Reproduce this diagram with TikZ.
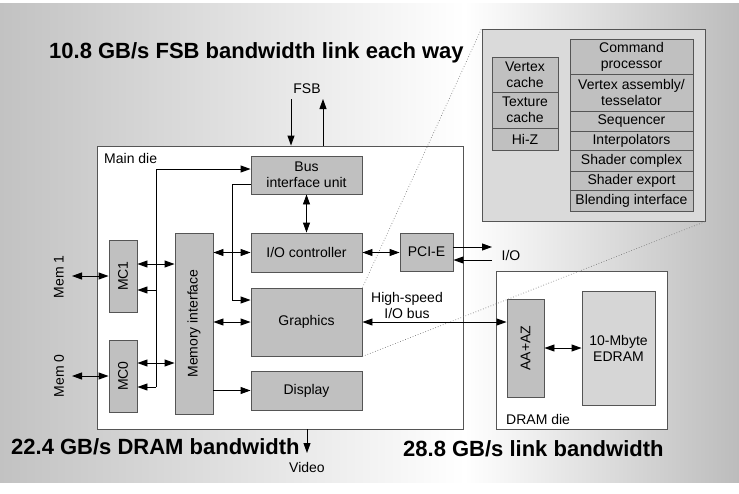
\documentclass[tikz,border=0pt]{standalone}
\usepackage{fontspec}
\setmainfont{Liberation Sans}
\usetikzlibrary{arrows.meta}
\definecolor{bgl}{HTML}{C2C2C2}
\definecolor{bgr}{HTML}{BCBCBC}
\definecolor{blkfill}{HTML}{C0C0C0}
\definecolor{blkdraw}{HTML}{555555}
\definecolor{insetfill}{HTML}{DADADA}
\definecolor{edramfill}{HTML}{D6D6D6}
\tikzset{
  blk/.style={draw=blkdraw, line width=0.9pt, fill=blkfill, inner sep=0pt, align=center,
    font=\fontsize{14}{16}\selectfont},
  die/.style={draw=blkdraw, line width=0.9pt, fill=white, inner sep=0pt},
  lbl/.style={inner sep=0pt, align=center, font=\fontsize{14}{16}\selectfont},
  title/.style={inner sep=0pt, font=\fontsize{22}{24}\selectfont\bfseries},
  conn/.style={line width=0.9pt, draw=black},
  arr/.style={conn, -{Triangle[length=10pt,width=7pt]}},
  dbl/.style={conn, {Triangle[length=10pt,width=7pt]}-{Triangle[length=10pt,width=7pt]}},
  dots/.style={draw=gray, line width=0.7pt, dotted},
}
\begin{document}
\begin{tikzpicture}[x=1pt,y=-1pt]
\useasboundingbox (0,0) rectangle (739,493);
\fill[white] (0,0) rectangle (739,493);
\shade[left color=bgl, right color=white] (0,3) rectangle (465,482);
\shade[left color=white, right color=bgr] (464.5,3) rectangle (739,482);

% dies
\node[die, minimum width=366pt, minimum height=283pt] (maindie) at (280,287.5) {};
\node[lbl, anchor=west] (mdl) at (104,158) {Main die};
\node[die, minimum width=171pt, minimum height=158pt] (dramdie) at (581.5,350) {};
\node[lbl, anchor=west] (ddl) at (506,419) {DRAM die};

% main die blocks
\node[blk, minimum width=111pt, minimum height=38pt] (biu) at (306.5,175) {Bus\\interface unit};
\node[blk, minimum width=111pt, minimum height=39pt] (ioc) at (306.5,252.5) {I/O controller};
\node[blk, minimum width=111pt, minimum height=68pt] (gfx) at (306.5,322) {Graphics};
\node[blk, minimum width=111pt, minimum height=39pt] (disp) at (306.5,390.5) {Display};
\node[blk, minimum width=53pt, minimum height=38pt] (pcie) at (426.5,252) {PCI-E};
\node[blk, minimum width=38pt, minimum height=181pt] (memif) at (194,323.5) {};
\node[lbl, rotate=90] (memift) at (memif.center) {Memory interface};
\node[blk, minimum width=28pt, minimum height=72pt] (mc1) at (123,276) {};
\node[lbl, rotate=90] (mc1t) at (mc1.center) {MC1};
\node[blk, minimum width=28pt, minimum height=72pt] (mc0) at (123,376) {};
\node[lbl, rotate=90] (mc0t) at (mc0.center) {MC0};

% DRAM die blocks
\node[blk, minimum width=37pt, minimum height=98pt] (aa) at (525.5,348) {};
\node[lbl, rotate=90] (aat) at (aa.center) {AA+AZ};
\node[blk, fill=edramfill, minimum width=73pt, minimum height=114pt] (edram) at (618.5,348) {10-Mbyte\\EDRAM};

% external labels
\node[lbl, rotate=90] (mem1) at (59,277) {Mem 1};
\node[lbl, rotate=90] (mem0) at (59,376) {Mem 0};
\coordinate (m1end) at (72,276);
\coordinate (m0end) at (72,376);
\node[lbl] (fsb) at (307,89) {FSB};
\node[lbl] (io) at (511,255) {I/O};
\node[lbl] (hs) at (407,305.5) {High-speed\\I/O bus};
\node[lbl] (video) at (307,467) {Video};

% titles
\node[title, anchor=west] (t1) at (49,53) {10.8 GB/s FSB bandwidth link each way};
\node[title, anchor=west] (t2) at (11,447) {22.4 GB/s DRAM bandwidth};
\node[title, anchor=west] (t3) at (403,449) {28.8 GB/s link bandwidth};

% inset
\node[draw=blkdraw, line width=0.9pt, fill=insetfill, inner sep=0pt, minimum width=223pt, minimum height=192pt] (inset) at (593.5,125) {};
\node[blk, minimum width=66pt, minimum height=35pt] (vc) at (525,74.5) {Vertex\\cache};
\node[blk, minimum width=66pt, minimum height=36pt] (tc) at (525,110) {Texture\\cache};
\node[blk, minimum width=66pt, minimum height=22pt] (hiz) at (525,139) {Hi-Z};
\node[blk, minimum width=123pt, minimum height=35pt] (cp) at (631.5,56.5) {Command\\processor};
\node[blk, minimum width=123pt, minimum height=37pt] (va) at (631.5,92.5) {Vertex assembly/\\tesselator};
\node[blk, minimum width=123pt, minimum height=20pt] (seq) at (631.5,121) {Sequencer};
\node[blk, minimum width=123pt, minimum height=19pt] (ip) at (631.5,140.5) {Interpolators};
\node[blk, minimum width=123pt, minimum height=21pt] (sc) at (631.5,160.5) {Shader complex};
\node[blk, minimum width=123pt, minimum height=19pt] (se) at (631.5,180.5) {Shader export};
\node[blk, minimum width=123pt, minimum height=21pt] (bi) at (631.5,200.5) {Blending interface};

% dotted zoom lines
\draw[dots] (gfx.north east) -- (inset.north west);
\draw[dots] (gfx.south east) -- (inset.south east);

% connectors
\draw[dbl] (m1end) -- (mc1.west |- m1end);
\draw[dbl] (m0end) -- (mc0.west |- m0end);
\draw[dbl] (mc1.east |- 0,264) -- (memif.west |- 0,264);
\draw[dbl] (mc0.east |- 0,363) -- (memif.west |- 0,363);
\coordinate (jt) at (156,169);
\coordinate (jm) at (156,290);
\coordinate (jb) at (156,387);
\draw[arr] (jb) -- (jt) -- (biu.west |- jt);
\draw[arr] (jm) -- (mc1.east |- jm);
\draw[arr] (jb) -- (mc0.east |- jb);
\draw[dbl] (memif.east |- ioc.west) -- (ioc.west);
\draw[dbl] (memif.east |- gfx.west) -- (gfx.west);
\draw[arr] (memif.east |- disp.west) -- (disp.west);
\draw[arr] (biu.west |- 0,184) -- (232,184) -- (232,300) -- (gfx.west |- 0,300);
\draw[dbl] (biu.south) -- (ioc.north);
\coordinate (fsbin) at (291,99);
\coordinate (fsbout) at (323,99);
\draw[arr] (fsbin) -- (fsbin |- maindie.north);
\draw[arr] (fsbout |- maindie.north) -- (fsbout);
\draw[dbl] (ioc.east) -- (pcie.west |- ioc.east);
\coordinate (ioa) at (492,247);
\coordinate (iob) at (492,260);
\draw[arr] (pcie.east |- ioa) -- (ioa);
\draw[arr] (iob) -- (pcie.east |- iob);
\draw[dbl] (gfx.east) -- (aa.west |- gfx.east);
\draw[dbl] (aa.east) -- (edram.west);
\coordinate (vid) at (307,453);
\draw[arr] (vid |- maindie.south) -- (vid);
\end{tikzpicture}
\end{document}
